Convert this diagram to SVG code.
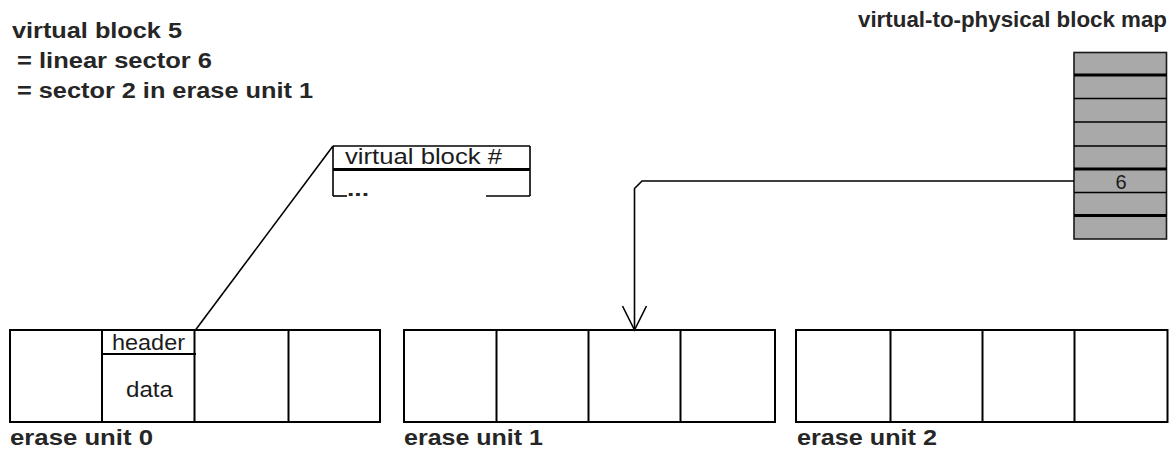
<svg xmlns="http://www.w3.org/2000/svg" width="1176" height="451" viewBox="0 0 1176 451">
  <style>
    .t { font-family: "Liberation Sans", Arial, sans-serif; font-size: 22px; fill: #1c1c1c; }
    .b { font-weight: bold; fill: #262626; }
    .box { fill: #ffffff; stroke: #000000; stroke-width: 2; }
    .ln { fill: none; stroke: #000000; stroke-width: 1.6; }
    .thick { fill: none; stroke: #000000; stroke-width: 3.2; }
    .cell { fill: #a9a9a9; stroke: #1a1a1a; stroke-width: 1.6; }
  </style>
  <rect width="1176" height="451" fill="#ffffff"/>

  <!-- caption -->
  <g id="caption">
    <text class="t b" x="12" y="38" textLength="170" lengthAdjust="spacingAndGlyphs">virtual block 5</text>
    <text class="t b" x="17" y="68" textLength="195" lengthAdjust="spacingAndGlyphs">= linear sector 6</text>
    <text class="t b" x="17" y="98" textLength="296" lengthAdjust="spacingAndGlyphs">= sector 2 in erase unit 1</text>
  </g>

  <!-- virtual-to-physical block map -->
  <g id="block-map">
    <text class="t b" x="858" y="27" textLength="309" lengthAdjust="spacingAndGlyphs">virtual-to-physical block map</text>
    <rect class="cell" x="1074" y="52.5" width="92.5" height="186.5"/>
    <line class="ln" x1="1074" y1="98.5" x2="1166.5" y2="98.5"/>
    <line class="ln" x1="1074" y1="122" x2="1166.5" y2="122"/>
    <line class="ln" x1="1074" y1="146" x2="1166.5" y2="146"/>
    <line class="ln" x1="1074" y1="192.5" x2="1166.5" y2="192.5"/>
    <line class="thick" x1="1074" y1="75" x2="1166.5" y2="75"/>
    <line class="thick" x1="1074" y1="169" x2="1166.5" y2="169"/>
    <line class="thick" x1="1074" y1="215.5" x2="1166.5" y2="215.5"/>
    <text class="t" x="1121" y="188.5" text-anchor="middle" style="font-size:20px">6</text>
  </g>

  <!-- sector header layout -->
  <g id="header-layout">
    <line class="ln" x1="333" y1="146" x2="530" y2="146"/>
    <line class="ln" x1="333" y1="146" x2="333" y2="196"/>
    <line class="ln" x1="530" y1="146" x2="530" y2="196"/>
    <line class="thick" x1="333" y1="169.5" x2="530" y2="169.5"/>
    <line class="ln" x1="333" y1="196" x2="347" y2="196"/>
    <line class="ln" x1="486" y1="196" x2="530" y2="196"/>
    <text class="t" x="345" y="164" textLength="157" lengthAdjust="spacingAndGlyphs">virtual block #</text>
    <text class="t b" x="347" y="196" textLength="22" lengthAdjust="spacingAndGlyphs" style="font-size:20px">...</text>
  </g>

  <!-- erase unit 0 -->
  <g id="erase-unit-0">
    <rect class="box" x="10" y="330" width="370" height="92"/>
    <line class="box" x1="102" y1="330" x2="102" y2="422"/>
    <line class="box" x1="194.5" y1="330" x2="194.5" y2="422"/>
    <line class="box" x1="288.5" y1="330" x2="288.5" y2="422"/>
    <line class="box" x1="102" y1="354" x2="196" y2="354"/>
    <text class="t" x="112" y="350" textLength="73" lengthAdjust="spacingAndGlyphs">header</text>
    <text class="t" x="126" y="396.5" textLength="47" lengthAdjust="spacingAndGlyphs">data</text>
    <text class="t b" x="10" y="445" textLength="143" lengthAdjust="spacingAndGlyphs">erase unit 0</text>
  </g>

  <!-- erase unit 1 -->
  <g id="erase-unit-1">
    <rect class="box" x="404" y="330" width="371" height="92"/>
    <line class="box" x1="496.5" y1="330" x2="496.5" y2="422"/>
    <line class="box" x1="588.5" y1="330" x2="588.5" y2="422"/>
    <line class="box" x1="680.5" y1="330" x2="680.5" y2="422"/>
    <text class="t b" x="404" y="445" textLength="139" lengthAdjust="spacingAndGlyphs">erase unit 1</text>
  </g>

  <!-- erase unit 2 -->
  <g id="erase-unit-2">
    <rect class="box" x="796" y="330" width="371.5" height="92"/>
    <line class="box" x1="890.5" y1="330" x2="890.5" y2="422"/>
    <line class="box" x1="982.5" y1="330" x2="982.5" y2="422"/>
    <line class="box" x1="1074.5" y1="330" x2="1074.5" y2="422"/>
    <text class="t b" x="797" y="445" textLength="140" lengthAdjust="spacingAndGlyphs">erase unit 2</text>
  </g>

  <!-- connectors -->
  <g id="connectors">
    <!-- header detail callout -->
    <line class="ln" x1="333" y1="146" x2="195.5" y2="330"/>
    <!-- map entry to physical sector -->
    <path class="ln" d="M1074 181 H642 L634.5 188.5 V330"/>
    <path class="ln" d="M622.5 306 L634.5 330 L646.5 306" stroke-width="2"/>
  </g>
</svg>
